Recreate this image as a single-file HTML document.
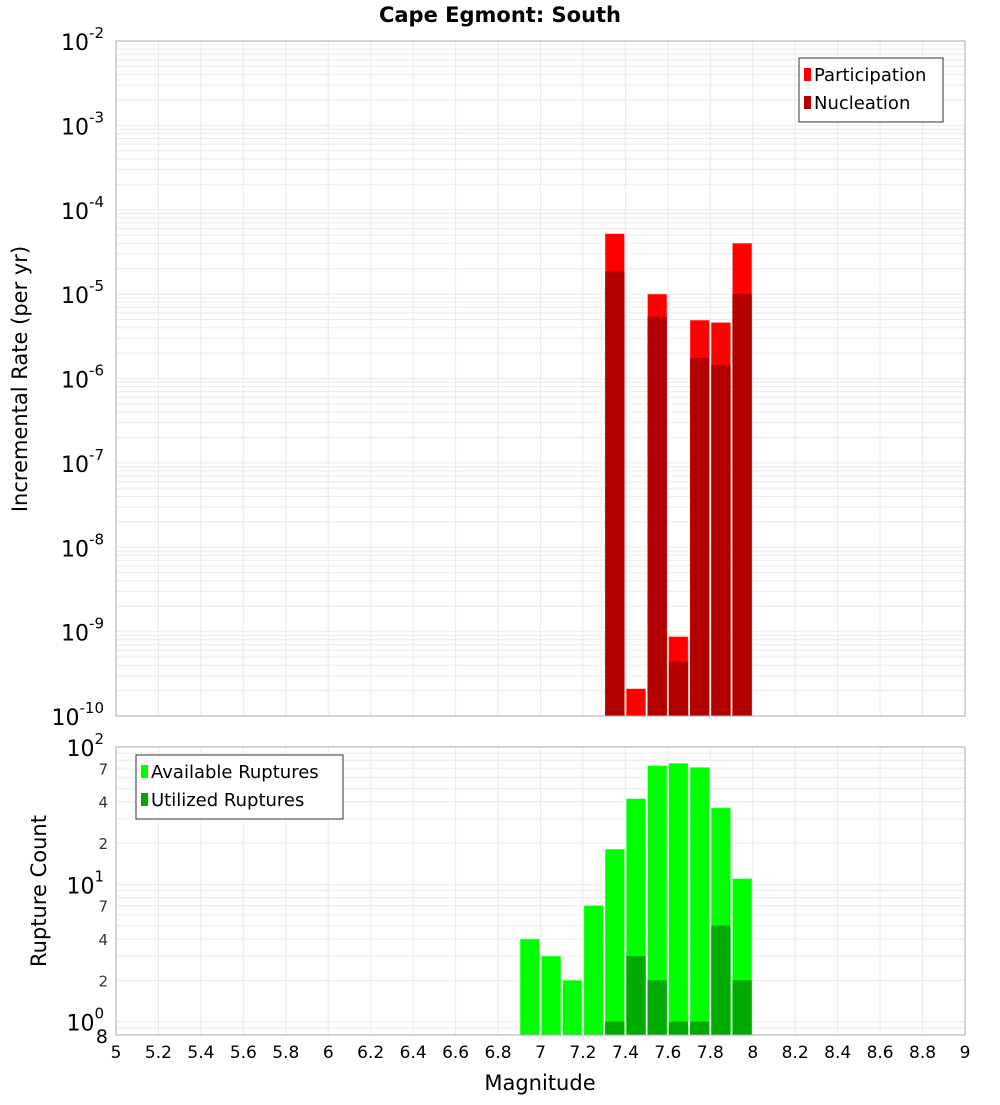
<!DOCTYPE html>
<html><head><meta charset="utf-8"><style>
body{margin:0;background:#fff;}
svg text{font-family:"DejaVu Sans","Liberation Sans",sans-serif;}
</style></head><body>
<svg id="chart" width="1000" height="1100" xmlns="http://www.w3.org/2000/svg">
<text x="500" y="22" text-anchor="middle" font-size="21" font-weight="bold">Cape Egmont: South</text>
<g id="topg"></g><g id="botg"></g><g id="xaxg"></g>
<text transform="translate(27,379) rotate(-90)" text-anchor="middle" font-size="21">Incremental Rate (per yr)</text>
<text transform="translate(46,891) rotate(-90)" text-anchor="middle" font-size="21">Rupture Count</text>
<text x="540" y="1090" text-anchor="middle" font-size="21">Magnitude</text>
</svg>
<script>
const mags = [6.95,7.05,7.15,7.25,7.35,7.45,7.55,7.65,7.75,7.85,7.95];
const participation = [0,0,0,0,5.2e-5,2.1e-10,1.0e-5,8.7e-10,4.9e-6,4.6e-6,4.0e-5];
const nucleation = [0,0,0,0,1.85e-5,0,5.4e-6,4.4e-10,1.75e-6,1.45e-6,1.0e-5];
const available = [4,3,2,7,18,42,73,76,71,36,11];
const utilized = [0,0,0,0,1,3,2,1,1,5,2];
const xTicks = [5,5.2,5.4,5.6,5.8,6,6.2,6.4,6.6,6.8,7,7.2,7.4,7.6,7.8,8,8.2,8.4,8.6,8.8,9];
const topExps = [-2,-3,-4,-5,-6,-7,-8,-9,-10];
const botMinor = [2,4,7,20,40,70];

const NS="http://www.w3.org/2000/svg";
const L=116,R=965;
const T1=41,B1=716,T2=747,B2=1035;
function X(m){return L+(m-5)*(R-L)/4;}
function Y1(v){return T1+(-2-Math.log10(v))*(B1-T1)/8;}
function Y2(v){return T2+(2-Math.log10(v))*(B2-T2)/(2-Math.log10(0.8));}
function mk(tag,attrs,parent,txt){const e=document.createElementNS(NS,tag);for(const k in attrs)e.setAttribute(k,attrs[k]);if(txt!==undefined)e.textContent=txt;parent.appendChild(e);return e;}
const gTop=document.getElementById('topg'),gBot=document.getElementById('botg'),gX=document.getElementById('xaxg');

function grid(g,T,B,Yf,lo,hi){
  mk('rect',{x:L,y:T,width:R-L,height:B-T,fill:'#fff'},g);
  for(const t of xTicks){mk('line',{x1:X(t),x2:X(t),y1:T,y2:B,stroke:'#ebebeb'},g);}
  for(let e=lo;e<hi;e++)for(let k=1;k<10;k++){const v=k*Math.pow(10,e);const y=Yf(v);if(y>=T&&y<=B)mk('line',{x1:L,x2:R,y1:y,y2:y,stroke:'#ebebeb'},g);}
}
grid(gTop,T1,B1,Y1,-10,-2);
grid(gBot,T2,B2,Y2,-1,2);

mags.forEach((m,i)=>{
  const x0=X(m-0.05)+1,w=X(m+0.05)-X(m-0.05)-2;
  if(participation[i]>0){const y=Y1(participation[i]);
    const r=mk('rect',{x:x0,y:y,width:w,height:B1-y,fill:'#ff0000',stroke:'#ff8080','stroke-width':0.5},gTop);
    
    }
  if(nucleation[i]>0){const y=Y1(nucleation[i]);
    const r=mk('rect',{x:x0,y:y,width:w,height:B1-y,fill:'#b20000'},gTop);
    
    }
});
mags.forEach((m,i)=>{
  const x0=X(m-0.05)+1,w=X(m+0.05)-X(m-0.05)-2;
  if(available[i]>0){const y=Y2(available[i]);
    const r=mk('rect',{x:x0,y:y,width:w,height:B2-y,fill:'#00ff00',stroke:'#80ff80','stroke-width':0.5},gBot);
    
    }
  if(utilized[i]>0){const y=Y2(utilized[i]);
    const r=mk('rect',{x:x0,y:y,width:w,height:B2-y,fill:'#00aa00'},gBot);
    
    }
});
mk('rect',{x:L,y:T1,width:R-L,height:B1-T1,fill:'none',stroke:'#aaa'},gTop);
mk('rect',{x:L,y:T2,width:R-L,height:B2-T2,fill:'none',stroke:'#aaa'},gBot);

for(const e of topExps){const y=Y1(Math.pow(10,e));
  const t=mk('text',{x:104,y:y+9,'text-anchor':'end','font-size':22},gTop);
  
  
  mk('tspan',{},t,'10');mk('tspan',{dy:-12,'font-size':15},t,String(e));}
[[100,'2'],[10,'1'],[1,'0']].forEach(([v,ex])=>{const y=Y2(v);
  const t=mk('text',{x:104,y:y+9,'text-anchor':'end','font-size':22},gBot);
  
  
  mk('tspan',{},t,'10');mk('tspan',{dy:-12,'font-size':15},t,ex);});
for(const v of botMinor){const y=Y2(v);
  const t=mk('text',{x:108,y:y+6,'text-anchor':'end','font-size':15,fill:'#333'},gBot,String(v).charAt(0));
  
  }
{const t=mk('text',{x:108,y:Y2(0.8)+8,'text-anchor':'end','font-size':19},gBot,'8');
 
 }

for(const t of xTicks){const e=mk('text',{x:X(t),y:1058,'text-anchor':'middle','font-size':17},gX,String(t));
  
  }

function legend(g,x,y,w,items){
  const b=mk('rect',{x:x,y:y,width:w,height:8+28*items.length,fill:'#fff',stroke:'#333'},g);
  
  
  items.forEach(([c,l],i)=>{
    mk('rect',{x:x+5,y:y+10+28*i,width:7,height:13,fill:c},g);
    const t=mk('text',{x:x+15,y:y+23+28*i,'font-size':18},g,l);
    
    });
}
legend(gTop,799,58,144,[['#ff0000','Participation'],['#b20000','Nucleation']]);
legend(gBot,136,755,207,[['#00ff00','Available Ruptures'],['#00aa00','Utilized Ruptures']]);
</script>
</body></html>
